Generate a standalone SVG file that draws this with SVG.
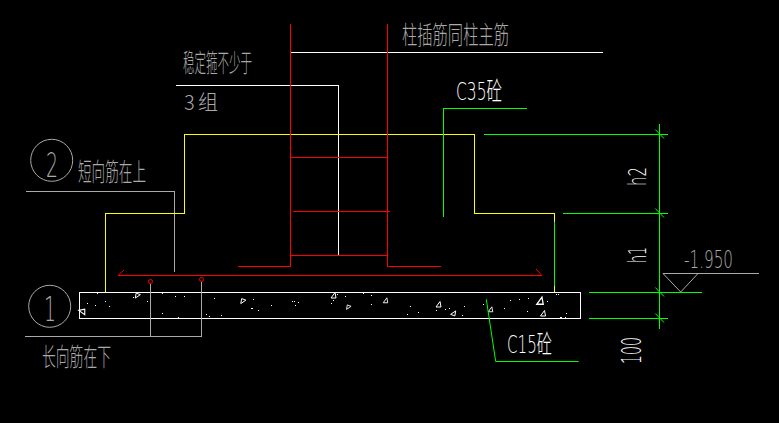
<svg xmlns="http://www.w3.org/2000/svg" width="779" height="423" viewBox="0 0 779 423">
<style>
.l{fill:none;stroke-width:1;shape-rendering:crispEdges}
.d{fill:none;stroke-width:1}
.r{stroke:#f00}.y{stroke:#ff0}.g{stroke:#0f0}.w{stroke:#fff}.a{stroke:#aaa}
text{font-family:"Noto Sans CJK SC","DejaVu Sans",sans-serif;font-weight:300}
.t{fill:#aaa}.m{fill:#fff}
.n{font-family:"DejaVu Sans","Noto Sans CJK SC",sans-serif;font-weight:200}
.s{fill:none;stroke:#fff;stroke-width:1}
</style>
<defs><path id="tri" d="M-2.5 2.5H2.5L1.5-3Z"/></defs>
<rect width="779" height="423" fill="#000"/>
<g id="slab">
<rect class="l w" x="79.5" y="292.5" width="501" height="26"/>
<g class="s">
<use href="#tri" transform="translate(137.5 296) rotate(200) scale(.9)"/>
<use href="#tri" transform="translate(243 301.5) rotate(200) scale(.9)"/>
<use href="#tri" transform="translate(82 312) rotate(-90) scale(1.1)"/>
<use href="#tri" transform="translate(333.5 295.5)"/>
<use href="#tri" transform="translate(385.5 300.5) scale(.9)"/>
<use href="#tri" transform="translate(348.5 307.5) rotate(200) scale(.8)"/>
<use href="#tri" transform="translate(438.5 304.5)"/>
<use href="#tri" transform="translate(453.5 313) rotate(20) scale(.9)"/>
<use href="#tri" transform="translate(490.5 309.5) scale(.9)"/>
<use href="#tri" transform="translate(540 301) scale(1.3)"/>
<use href="#tri" transform="translate(543 313.5)"/>
</g>
<path fill="#fff" d="M97 293h1v1h-1zM133 297h1v1h-1zM162 293h1v1h-1zM175 296h1v1h-1zM184 296h1v1h-1zM214 298h1v1h-1zM253 299h1v1h-1zM292 301h1v1h-1zM294 301h1v1h-1zM298 302h1v1h-1zM295 305h1v1h-1zM271 305h1v1h-1zM258 310h1v1h-1zM251 308h2v1h-2zM87 303h1v1h-1zM95 305h1v1h-1zM105 301h1v1h-1zM109 306h1v1h-1zM147 301h1v1h-1zM162 313h1v1h-1zM178 317h1v1h-1zM206 314h1v1h-1zM209 316h1v1h-1zM221 315h1v1h-1zM337 294h1v1h-1zM345 296h1v1h-1zM333 300h1v1h-1zM331 303h1v1h-1zM363 293h1v1h-1zM371 295h1v1h-1zM371 304h1v1h-1zM410 306h1v1h-1zM418 312h1v1h-1zM407 314h1v1h-1zM436 310h1v1h-1zM445 309h1v1h-1zM449 308h1v1h-1zM464 306h1v1h-1zM462 315h1v1h-1zM483 304h1v1h-1zM510 300h1v1h-1zM519 299h1v1h-1zM528 298h1v1h-1zM504 308h1v1h-1zM527 311h1v1h-1zM547 301h1v1h-1zM556 294h1v1h-1zM558 294h1v1h-1zM566 313h1v1h-1zM560 317h2v1h-2zM565 317h1v1h-1z"/>
</g>
<g id="connectors">
<path class="l a" d="M25.5 191.5H174.5V271.5"/>
<path class="l a" d="M25 336.5H201.5V282M150.5 336.5V284"/>
<path class="l w" d="M176 85.5H338.5V255"/>
<path class="l w" d="M291 52.5H603"/>
<path class="l g" d="M554.5 222V286"/>
<path class="l y" d="M105.5 292V213.5H184.5V134.5H474.5V213.5H554.5V222M554.5 286V292"/>
<path class="l g" d="M443.5 217V108.5H527"/>
<path class="d g" d="M486.3 299.3L495.7 361.5H578.7"/>
<path class="l g" d="M659.5 124V329M484 134.5H668M563 213.5H668M589 292.5H702M589 318.5H668"/>
<path class="d g" d="M655.3 129.5L664 138.5M655.3 208.5L664 217.5M655.3 287.5L664 296.5M655.3 313.5L664 322.5"/>
<path class="d a" d="M663 273.5H759M663 273.5L680.7 292L698 273.5"/>
</g>
<g id="rebar">
<path class="l r" d="M238 266.5H290.5V24M387.5 24V266.5H441"/>
<path class="l r" d="M290.5 157.5H387.5M293 211.5H390M290.5 255.5H387.5"/>
<path class="l r" d="M118 275.5H542"/>
<path class="d r" d="M118.3 275.2L124 270M541.7 275.2L536 269"/>
<circle class="d r" cx="150.5" cy="281.5" r="2"/>
<circle class="d r" cx="201.5" cy="279.5" r="2"/>
</g>
<g id="marker-1">
<circle class="d a" cx="49.7" cy="306.3" r="21"/>
<text class="t n" x="44" y="321" font-size="34" textLength="12" lengthAdjust="spacingAndGlyphs">1</text>
</g>
<g id="marker-2">
<circle class="d a" cx="51.7" cy="160.3" r="21"/>
<text class="t n" x="46" y="177" font-size="34" textLength="12" lengthAdjust="spacingAndGlyphs">2</text>
</g>
<g id="labels">
<text class="t" x="183" y="72" font-size="25" textLength="69" lengthAdjust="spacingAndGlyphs">稳定箍不少于</text>
<text class="t" x="184 198" y="110" font-size="20">3组</text>
<text class="t" x="78" y="181" font-size="25" textLength="68" lengthAdjust="spacingAndGlyphs">短向筋在上</text>
<text class="t" x="42" y="366" font-size="25" textLength="69" lengthAdjust="spacingAndGlyphs">长向筋在下</text>
<text class="t" x="402" y="44" font-size="25" textLength="107" lengthAdjust="spacingAndGlyphs">柱插筋同柱主筋</text>
<text class="m n" x="456" y="100" font-size="25" textLength="46" lengthAdjust="spacingAndGlyphs">C35砼</text>
<text class="m n" x="507" y="353" font-size="25" textLength="45" lengthAdjust="spacingAndGlyphs">C15砼</text>
<text class="m n" transform="translate(646 186) rotate(-90)" font-size="25" textLength="19" lengthAdjust="spacingAndGlyphs">h2</text>
<text class="m n" transform="translate(646 263) rotate(-90)" font-size="25" textLength="16" lengthAdjust="spacingAndGlyphs">h1</text>
<text class="m n" transform="translate(641 364) rotate(-90)" font-size="27" textLength="27" lengthAdjust="spacingAndGlyphs">100</text>
<text class="t n" x="684" y="268" font-size="25" textLength="49" lengthAdjust="spacingAndGlyphs">-1.950</text>
</g>
</svg>
